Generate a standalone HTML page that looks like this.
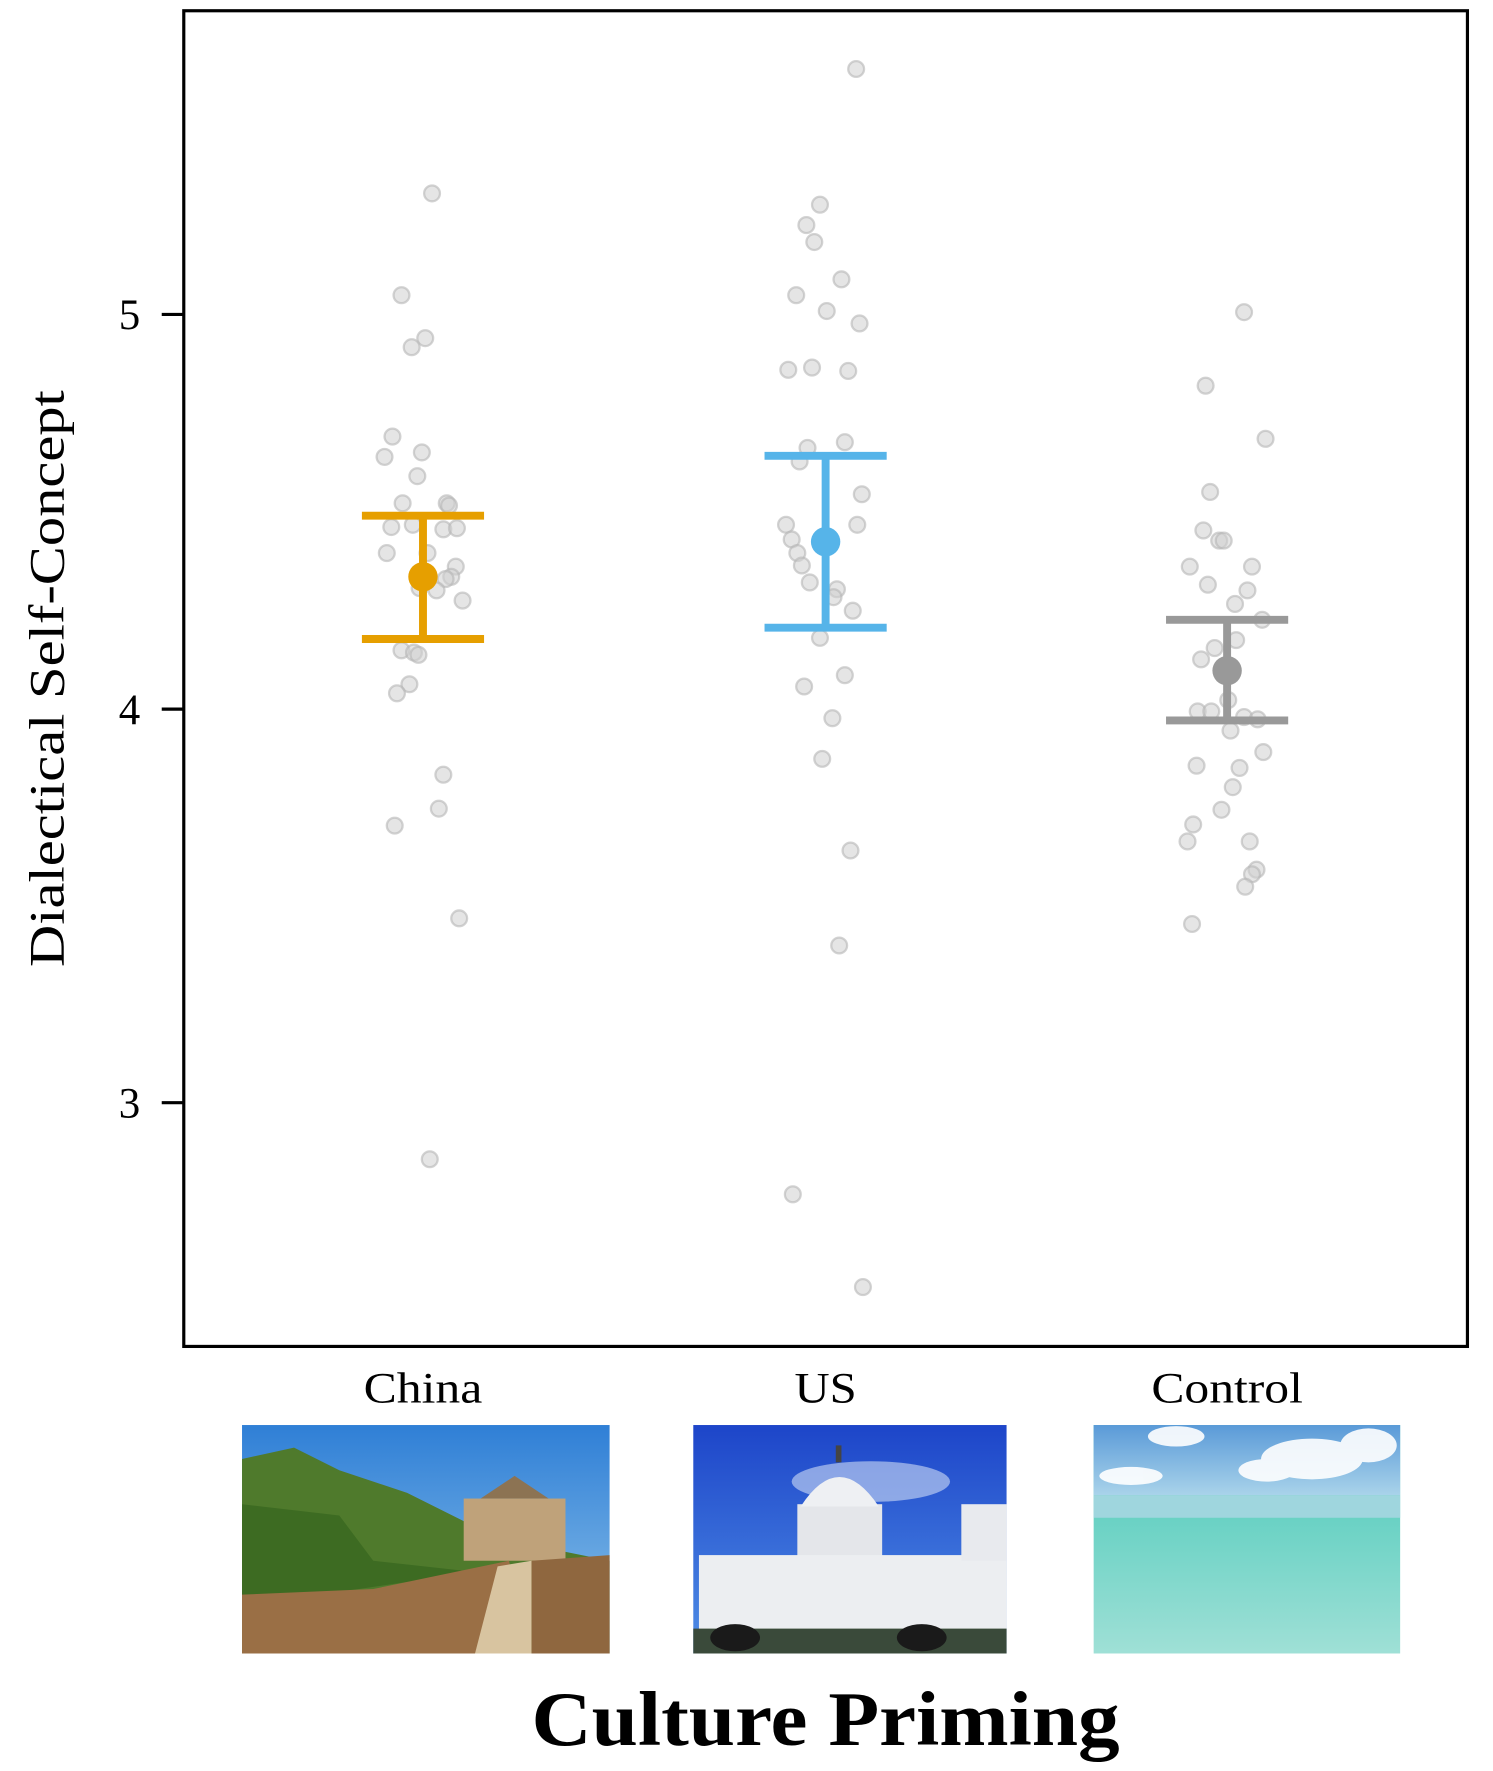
<!DOCTYPE html>
<html><head><meta charset="utf-8"><style>
html,body{margin:0;padding:0;background:#fff;}
svg{display:block;}
</style></head><body>
<svg width="1493" height="1771" viewBox="0 0 1320.1 1565.9" xmlns="http://www.w3.org/2000/svg" font-family="Liberation Serif, serif">
<defs>
<linearGradient id="sky1" x1="0" y1="0" x2="0" y2="1"><stop offset="0" stop-color="#2f7fd6"/><stop offset="1" stop-color="#8fc3ea"/></linearGradient>
<linearGradient id="sky2" x1="0" y1="0" x2="0" y2="1"><stop offset="0" stop-color="#1d45c9"/><stop offset="1" stop-color="#4f8ee6"/></linearGradient>
<linearGradient id="sky3" x1="0" y1="0" x2="0" y2="1"><stop offset="0" stop-color="#5a9ad8"/><stop offset="1" stop-color="#a9d3ea"/></linearGradient>
<linearGradient id="sea" x1="0" y1="0" x2="0" y2="1"><stop offset="0" stop-color="#45c8b8"/><stop offset="1" stop-color="#9fe0d6"/></linearGradient>
</defs>
<rect x="0" y="0" width="1320.1" height="1565.9" fill="#fff"/>
<!-- plot frame -->
<rect x="162.5" y="9.5" width="1135" height="1181" fill="none" stroke="#000" stroke-width="2.8"/>
<g stroke="#000" stroke-width="2.8">
<line x1="143" y1="278" x2="162" y2="278"/>
<line x1="143" y1="627" x2="162" y2="627"/>
<line x1="143" y1="975" x2="162" y2="975"/>
</g>
<g font-size="38" text-anchor="end">
<text x="124" y="291">5</text>
<text x="124" y="640">4</text>
<text x="124" y="988">3</text>
</g>
<text transform="translate(56,600) rotate(-90)" font-size="44" text-anchor="middle" textLength="510" lengthAdjust="spacingAndGlyphs">Dialectical Self-Concept</text>
<!-- dots -->
<g fill="#cfcfcf" fill-opacity="0.55" stroke="#b5b5b5" stroke-opacity="0.6" stroke-width="2">
<circle cx="382" cy="171" r="7"/><circle cx="355" cy="261" r="7"/><circle cx="376" cy="299" r="7"/><circle cx="364" cy="307" r="7"/><circle cx="347" cy="386" r="7"/><circle cx="340" cy="404" r="7"/><circle cx="373" cy="400" r="7"/><circle cx="369" cy="421" r="7"/><circle cx="356" cy="445" r="7"/><circle cx="395" cy="445" r="7"/><circle cx="397" cy="447" r="7"/><circle cx="346" cy="466" r="7"/><circle cx="365" cy="464" r="7"/><circle cx="392" cy="468" r="7"/><circle cx="404" cy="467" r="7"/><circle cx="342" cy="489" r="7"/><circle cx="378" cy="489" r="7"/><circle cx="403" cy="501" r="7"/><circle cx="399" cy="510" r="7"/><circle cx="394" cy="512" r="7"/><circle cx="386" cy="522" r="7"/><circle cx="409" cy="531" r="7"/><circle cx="371" cy="520" r="7"/><circle cx="355" cy="575" r="7"/><circle cx="366" cy="577" r="7"/><circle cx="370" cy="579" r="7"/><circle cx="362" cy="605" r="7"/><circle cx="351" cy="613" r="7"/><circle cx="392" cy="685" r="7"/><circle cx="388" cy="715" r="7"/><circle cx="349" cy="730" r="7"/><circle cx="406" cy="812" r="7"/><circle cx="380" cy="1025" r="7"/>
<circle cx="757" cy="61" r="7"/><circle cx="725" cy="181" r="7"/><circle cx="713" cy="199" r="7"/><circle cx="720" cy="214" r="7"/><circle cx="744" cy="247" r="7"/><circle cx="704" cy="261" r="7"/><circle cx="731" cy="275" r="7"/><circle cx="760" cy="286" r="7"/><circle cx="697" cy="327" r="7"/><circle cx="718" cy="325" r="7"/><circle cx="750" cy="328" r="7"/><circle cx="714" cy="396" r="7"/><circle cx="747" cy="391" r="7"/><circle cx="707" cy="408" r="7"/><circle cx="762" cy="437" r="7"/><circle cx="695" cy="464" r="7"/><circle cx="758" cy="464" r="7"/><circle cx="700" cy="477" r="7"/><circle cx="705" cy="489" r="7"/><circle cx="709" cy="500" r="7"/><circle cx="716" cy="515" r="7"/><circle cx="740" cy="521" r="7"/><circle cx="737" cy="528" r="7"/><circle cx="754" cy="540" r="7"/><circle cx="725" cy="564" r="7"/><circle cx="747" cy="597" r="7"/><circle cx="711" cy="607" r="7"/><circle cx="736" cy="635" r="7"/><circle cx="727" cy="671" r="7"/><circle cx="752" cy="752" r="7"/><circle cx="742" cy="836" r="7"/><circle cx="701" cy="1056" r="7"/><circle cx="763" cy="1138" r="7"/>
<circle cx="1100" cy="276" r="7"/><circle cx="1066" cy="341" r="7"/><circle cx="1119" cy="388" r="7"/><circle cx="1070" cy="435" r="7"/><circle cx="1064" cy="469" r="7"/><circle cx="1078" cy="478" r="7"/><circle cx="1082" cy="478" r="7"/><circle cx="1052" cy="501" r="7"/><circle cx="1107" cy="501" r="7"/><circle cx="1068" cy="517" r="7"/><circle cx="1103" cy="522" r="7"/><circle cx="1092" cy="534" r="7"/><circle cx="1116" cy="548" r="7"/><circle cx="1093" cy="566" r="7"/><circle cx="1074" cy="573" r="7"/><circle cx="1062" cy="583" r="7"/><circle cx="1086" cy="619" r="7"/><circle cx="1059" cy="629" r="7"/><circle cx="1071" cy="629" r="7"/><circle cx="1100" cy="634" r="7"/><circle cx="1112" cy="636" r="7"/><circle cx="1088" cy="646" r="7"/><circle cx="1117" cy="665" r="7"/><circle cx="1058" cy="677" r="7"/><circle cx="1096" cy="679" r="7"/><circle cx="1090" cy="696" r="7"/><circle cx="1080" cy="716" r="7"/><circle cx="1055" cy="729" r="7"/><circle cx="1050" cy="744" r="7"/><circle cx="1105" cy="744" r="7"/><circle cx="1111" cy="769" r="7"/><circle cx="1107" cy="773" r="7"/><circle cx="1101" cy="784" r="7"/><circle cx="1054" cy="817" r="7"/>
</g>
<!-- error bars -->
<g stroke="#E69F00" stroke-width="7" fill="#E69F00">
<line x1="374" y1="456" x2="374" y2="565"/><line x1="320" y1="456" x2="428" y2="456"/><line x1="320" y1="565" x2="428" y2="565"/>
<circle cx="374" cy="510" r="13" stroke="none"/>
</g>
<g stroke="#56B4E9" stroke-width="7" fill="#56B4E9">
<line x1="730" y1="403" x2="730" y2="555"/><line x1="676" y1="403" x2="784" y2="403"/><line x1="676" y1="555" x2="784" y2="555"/>
<circle cx="730" cy="479" r="13" stroke="none"/>
</g>
<g stroke="#999999" stroke-width="7" fill="#999999">
<line x1="1085" y1="548" x2="1085" y2="637"/><line x1="1031" y1="548" x2="1139" y2="548"/><line x1="1031" y1="637" x2="1139" y2="637"/>
<circle cx="1085" cy="593" r="13" stroke="none"/>
</g>
<!-- category labels -->
<g font-size="38" text-anchor="middle">
<text x="374" y="1240" textLength="105" lengthAdjust="spacingAndGlyphs">China</text>
<text x="730" y="1240" textLength="55" lengthAdjust="spacingAndGlyphs">US</text>
<text x="1085" y="1240" textLength="134" lengthAdjust="spacingAndGlyphs">Control</text>
</g>
<!-- China image -->
<g>
<rect x="214" y="1260" width="325" height="202" fill="url(#sky1)"/>
<path d="M214 1290 L260 1280 L300 1300 L360 1320 L410 1345 L440 1360 L539 1380 L539 1462 L214 1462 Z" fill="#4f7a2c"/>
<path d="M214 1330 L300 1340 L330 1380 L420 1390 L214 1420 Z" fill="#3d6b22"/>
<rect x="410" y="1325" width="90" height="55" fill="#bfa27a"/>
<path d="M425 1325 L455 1305 L485 1325 Z" fill="#8c7353"/>
<path d="M214 1410 L330 1405 L450 1380 L470 1462 L214 1462 Z" fill="#9a6f45"/>
<path d="M440 1385 L470 1380 L470 1462 L420 1462 Z" fill="#d8c4a0"/>
<path d="M470 1380 L539 1375 L539 1462 L470 1462 Z" fill="#8f673f"/>
</g>
<!-- US image -->
<g>
<rect x="613" y="1260" width="277" height="202" fill="url(#sky2)"/>
<ellipse cx="770" cy="1310" rx="70" ry="18" fill="#cfdcf5" opacity="0.6"/>
<rect x="705" y="1330" width="75" height="50" fill="#e4e6ea"/>
<path d="M708 1332 Q742 1280 777 1332 Z" fill="#eef0f3"/>
<rect x="739" y="1278" width="5" height="15" fill="#444"/>
<rect x="618" y="1375" width="272" height="70" fill="#eceef1"/>
<rect x="850" y="1330" width="40" height="50" fill="#e8eaee"/>
<rect x="613" y="1440" width="277" height="22" fill="#3a4a3a"/>
<ellipse cx="650" cy="1448" rx="22" ry="12" fill="#1a1a1a"/>
<ellipse cx="815" cy="1448" rx="22" ry="12" fill="#1a1a1a"/>
</g>
<!-- Control image -->
<g>
<rect x="967" y="1260" width="271" height="202" fill="url(#sea)"/>
<rect x="967" y="1260" width="271" height="62" fill="url(#sky3)"/>
<rect x="967" y="1322" width="271" height="20" fill="#9fd6de"/>
<g fill="#fff" opacity="0.9">
<ellipse cx="1160" cy="1290" rx="45" ry="18"/><ellipse cx="1210" cy="1278" rx="25" ry="15"/><ellipse cx="1040" cy="1270" rx="25" ry="9"/><ellipse cx="1000" cy="1305" rx="28" ry="8"/><ellipse cx="1120" cy="1300" rx="25" ry="10"/>
</g>
</g>
<text x="730" y="1543" font-size="68" font-weight="bold" text-anchor="middle" textLength="520" lengthAdjust="spacingAndGlyphs">Culture Priming</text>
</svg>
</body></html>
